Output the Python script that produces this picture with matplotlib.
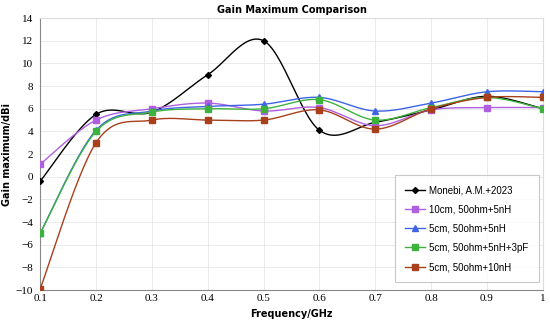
import matplotlib
matplotlib.use("Agg")
import matplotlib.pyplot as plt
import numpy as np

freq = [0.1, 0.2, 0.3, 0.4, 0.5, 0.6, 0.7, 0.8, 0.9, 1.0]
monebi = [-0.4, 5.5, 5.7, 9.0, 12.0, 4.1, 4.8, 5.9, 7.1, 6.0]
cm10_5nh = [1.1, 5.0, 6.0, 6.5, 5.8, 6.1, 4.5, 5.9, 6.1, 6.1]
cm5_5nh = [-5.0, 4.1, 5.8, 6.2, 6.4, 7.0, 5.8, 6.5, 7.5, 7.5]
cm5_5nh_3pf = [-5.0, 4.0, 5.7, 6.0, 6.0, 6.8, 5.0, 6.1, 7.0, 6.0]
cm5_10nh = [-9.9, 3.0, 5.0, 5.0, 5.0, 5.9, 4.2, 6.0, 7.0, 7.0]

labels = ['Monebi, A.M.+2023', '10cm, 50ohm+5nH', '5cm, 50ohm+5nH',
          '5cm, 50ohm+5nH+3pF', '5cm, 50ohm+10nH']
series = [monebi, cm10_5nh, cm5_5nh, cm5_5nh_3pf, cm5_10nh]
colors = ['black', '#b05fe0', '#3f63e6', '#3db33d', '#a8401c']
markers = ['D', 's', '^', 's', 's']
msizes = [3, 4, 4.5, 4.5, 4.5]


def smooth(x, y, n=30):
    # excel-like smoothed line (bezier, control points from neighbours)
    x = np.asarray(x, float)
    y = np.asarray(y, float)
    xs, ys = [], []
    for i in range(len(x) - 1):
        p0 = np.array([x[max(i - 1, 0)], y[max(i - 1, 0)]])
        p1 = np.array([x[i], y[i]])
        p2 = np.array([x[i + 1], y[i + 1]])
        p3 = np.array([x[min(i + 2, len(x) - 1)], y[min(i + 2, len(x) - 1)]])
        c1 = p1 + (p2 - p0) / 6
        c2 = p2 - (p3 - p1) / 6
        t = np.linspace(0, 1, n)[:, None]
        pts = (1 - t) ** 3 * p1 + 3 * (1 - t) ** 2 * t * c1 + 3 * (1 - t) * t ** 2 * c2 + t ** 3 * p2
        xs.extend(pts[:, 0])
        ys.extend(pts[:, 1])
    return xs, ys


fig = plt.figure(figsize=(5.5, 3.23), dpi=100)
ax = fig.add_axes([0.073, 0.102, 0.914, 0.842])

for y, c, m, ms, lab in zip(series, colors, markers, msizes, labels):
    sx, sy = smooth(freq, y)
    ax.plot(sx, sy, color=c, lw=1.0, zorder=3)
    ax.plot(freq, y, ls='none', marker=m, color=c, ms=ms, zorder=4)
    ax.plot([], [], color=c, lw=1.0, marker=m, ms=ms, label=lab)

ax.set_xlim(0.1, 1.0)
ax.set_ylim(-10, 14)
ax.set_xticks(freq)
ax.set_xticklabels(['0.1', '0.2', '0.3', '0.4', '0.5', '0.6', '0.7', '0.8', '0.9', '1'])
ax.set_yticks(range(-10, 15, 2))
for t in ax.get_xticklabels() + ax.get_yticklabels():
    t.set_fontfamily('Liberation Serif')
    t.set_fontsize(8)
ax.tick_params(axis='y', length=0, pad=5)
ax.tick_params(axis='x', length=0, pad=3)
ax.grid(True, color='#e6e6e6', lw=0.6)
for s in ax.spines.values():
    s.set_color('#dddddd')
ax.spines['left'].set_color('#888888')
ax.spines['bottom'].set_color('#888888')

ax.set_title('Gain Maximum Comparison', fontsize=7, fontweight='bold', pad=4)
ax.set_xlabel('Frequency/GHz', fontsize=7, fontweight='bold')
ax.xaxis.set_label_coords(0.5, -0.068)
ax.set_ylabel('Gain maximum/dBi', fontsize=7, fontweight='bold', labelpad=3)

leg = ax.legend(loc='lower right', bbox_to_anchor=(0.998, 0.018),
                prop={'family': 'Liberation Sans', 'size': 7},
                labelspacing=0.95, handlelength=2.0, handletextpad=0.5,
                borderpad=1.05, borderaxespad=0.3,
                fancybox=False, edgecolor='#bbbbbb')
leg.get_frame().set_linewidth(0.8)

plt.savefig('out.png', dpi=100)
